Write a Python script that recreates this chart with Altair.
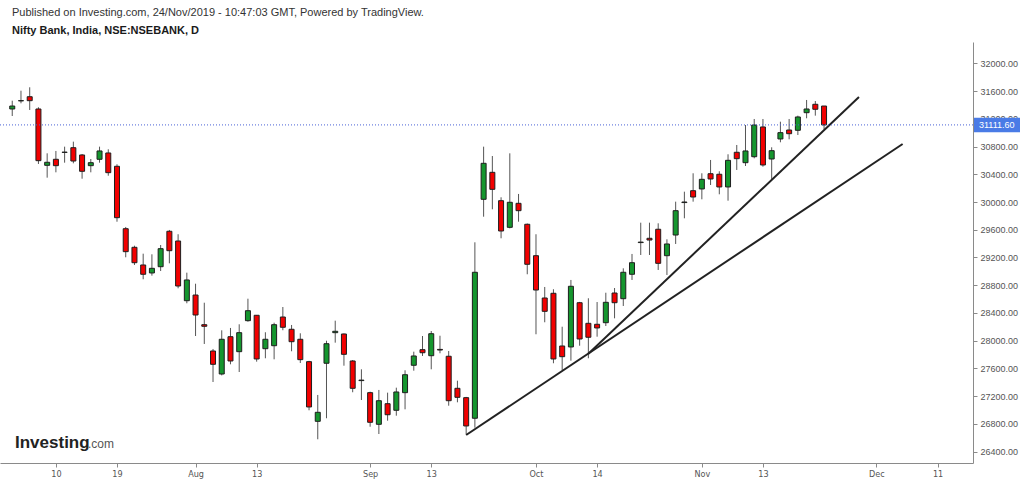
import altair as alt
import pandas as pd

# ---------------- data ----------------
dates = ["Jul 3", "Jul 4", "Jul 5", "Jul 8", "Jul 9", "Jul 10", "Jul 11", "Jul 12", "Jul 15", "Jul 16",
         "Jul 17", "Jul 18", "Jul 19", "Jul 22", "Jul 23", "Jul 24", "Jul 25", "Jul 26", "Jul 29", "Jul 30",
         "Jul 31", "Aug 1", "Aug 2", "Aug 5", "Aug 6", "Aug 7", "Aug 8", "Aug 9", "Aug 13", "Aug 14",
         "Aug 16", "Aug 19", "Aug 20", "Aug 21", "Aug 22", "Aug 23", "Aug 26", "Aug 27", "Aug 28", "Aug 29",
         "Aug 30", "Sep 3", "Sep 4", "Sep 5", "Sep 6", "Sep 9", "Sep 11", "Sep 12", "Sep 13", "Sep 16",
         "Sep 17", "Sep 18", "Sep 19", "Sep 20", "Sep 23", "Sep 24", "Sep 25", "Sep 26", "Sep 27", "Sep 30",
         "Oct 1", "Oct 3", "Oct 4", "Oct 7", "Oct 9", "Oct 10", "Oct 11", "Oct 14", "Oct 15", "Oct 16",
         "Oct 17", "Oct 18", "Oct 22", "Oct 23", "Oct 24", "Oct 25", "Oct 29", "Oct 30", "Oct 31", "Nov 1",
         "Nov 4", "Nov 5", "Nov 6", "Nov 7", "Nov 8", "Nov 11", "Nov 13", "Nov 14", "Nov 15", "Nov 18",
         "Nov 19", "Nov 20", "Nov 21", "Nov 22"]

opens = [31341, 31458, 31518, 31341, 30529, 30616, 30715, 30783, 30678, 30524,
         30616, 30707, 30515, 29615, 29347, 29092, 28977, 29067, 29578, 29438,
         28577, 28659, 28231, 27852, 27520, 28058, 27842, 28289, 28367, 27885,
         27928, 28342, 28165, 28021, 27698, 26838, 27675, 28116, 28097, 27708,
         27425, 27251, 26795, 27092, 26997, 27251, 27646, 27871, 27784, 27875,
         27776, 27314, 27179, 26882, 30039, 30428, 30019, 29635, 29981, 29679,
         29226, 28616, 28684, 27924, 27910, 28548, 28251, 28237, 28260, 28688,
         28606, 28958, 29415, 29477, 29607, 29226, 29524, 29992, 30163, 30188,
         30408, 30400, 30217, 30717, 30567, 30653, 31082, 30620, 30909, 31038,
         31034, 31288, 31409, 31384]

highs = [31461, 31605, 31654, 31366, 30702, 30736, 30798, 30870, 30692, 30620,
         30798, 30760, 30544, 29640, 29370, 29255, 29246, 29380, 29597, 29535,
         28981, 28822, 28548, 27881, 28150, 28184, 28237, 28606, 28370, 28122,
         28260, 28486, 28227, 28107, 27710, 27218, 28000, 28289, 28105, 27722,
         27588, 27265, 27290, 27251, 27323, 27574, 27842, 28068, 28140, 28072,
         27852, 27424, 27190, 29419, 30798, 30663, 30068, 30702, 30116, 29690,
         29535, 28775, 28742, 28202, 28876, 28560, 28612, 28558, 28692, 28760,
         29044, 29251, 29702, 29702, 29693, 29462, 30005, 30149, 30414, 30414,
         30606, 30443, 30688, 30822, 31110, 31197, 31197, 30789, 31158, 31197,
         31245, 31471, 31456, 31384]

lows = [31240, 31423, 31327, 30548, 30351, 30428, 30567, 30558, 30336, 30428,
        30567, 30379, 29716, 29203, 29092, 28886, 28938, 29005, 29116, 28756,
        28540, 28068, 27953, 27405, 27500, 27660, 27549, 28274, 27698, 27747,
        27732, 28151, 27848, 27679, 26997, 26579, 26882, 27972, 27640, 27257,
        27145, 26760, 26655, 26847, 26919, 27011, 27568, 27780, 27588, 27819,
        27063, 27112, 26650, 26746, 29788, 29895, 29477, 29620, 29716, 28958,
        28093, 28266, 27675, 27578, 27712, 27928, 27747, 28058, 28212, 28323,
        28501, 28876, 29236, 29236, 29020, 28948, 29395, 29765, 30005, 30039,
        30245, 30111, 30019, 30462, 30519, 30630, 30509, 30332, 30861, 30904,
        30966, 31207, 31245, 31048]

closes = [31384, 31462, 31461, 30596, 30573, 30524, 30719, 30591, 30443, 30567,
          30736, 30423, 29774, 29284, 29125, 28958, 29044, 29327, 29298, 28789,
          28876, 28371, 28208, 27660, 28021, 27708, 28116, 28433, 27737, 28021,
          28231, 28194, 27986, 27727, 27045, 26968, 27957, 28136, 27804, 27314,
          27432, 26824, 27135, 26933, 27261, 27510, 27780, 27827, 28101, 27866,
          27135, 27184, 26771, 28987, 30558, 30183, 29582, 29996, 29875, 29102,
          28731, 28424, 27737, 27770, 28785, 28025, 28050, 28184, 28554, 28548,
          28987, 29125, 29422, 29452, 29116, 29395, 29875, 30000, 30072, 30327,
          30332, 30217, 30601, 30625, 30736, 31110, 30534, 30740, 31000, 30985,
          31226, 31341, 31337, 31111.6]

# x-axis labels (bar index -> label), incl. projected future sessions
tick_index = [5, 12, 21, 28, 41, 48, 60, 67, 79, 86, 99, 106]
tick_label = ["10", "19", "Aug", "13", "Sep", "13", "Oct", "14", "Nov", "13", "Dec", "11"]

# price axis ticks
price_ticks = [26400, 26800, 27200, 27600, 28000, 28400, 28800, 29200, 29600,
               30000, 30400, 30800, 31200, 31600, 32000]

# trend lines (bar index, price)
line_name = ["a", "a", "b", "b"]
line_index = [52, 102, 66, 97]
line_price = [26641, 30836, 27812, 31514]

last_price = [31111.6]
last_label = ["31111.60"]

# ---------------- frames ----------------
df = pd.DataFrame({"idx": list(range(len(dates))), "date": dates, "open": opens,
                   "high": highs, "low": lows, "close": closes})
df["dir"] = ["up" if c >= o else "down" for o, c in zip(opens, closes)]

lines_df = pd.DataFrame({"name": line_name, "idx": line_index, "price": line_price})
last_df = pd.DataFrame({"price": last_price, "label": last_label,
                        "lo": [p - 105 for p in last_price], "hi": [p + 105 for p in last_price]})

FONT = "Liberation Sans, Arial, sans-serif"

label_expr = " : ".join(f"datum.value == {i} ? '{t}'" for i, t in zip(tick_index, tick_label)) + " : ''"

xscale = alt.Scale(domain=[-0.83, 109.49], nice=False, zero=False)
yscale = alt.Scale(domain=[26237, 32307], nice=False, zero=False)

x_axis = alt.Axis(values=tick_index, labelExpr=label_expr, grid=False, title=None,
                  domainColor="#8a8a8a", tickColor="#8a8a8a", tickSize=4,
                  labelColor="#555555", labelFontSize=9, labelOverlap=False,
                  labelFont="Liberation Sans Narrow, DejaVu Sans Condensed, Liberation Sans",
                  labelPadding=2)
y_axis = alt.Axis(orient="right", values=price_ticks, format=".2f", grid=False, title=None,
                  domainColor="#8a8a8a", tickColor="#8a8a8a", tickSize=4, labelOverlap=False,
                  tickCount=15, labelColor="#555555", labelFontSize=9, labelFont=FONT,
                  labelPadding=3)


def X(field):
    return alt.X(field, scale=xscale, axis=x_axis)


def Y(field):
    return alt.Y(field, scale=yscale, axis=y_axis)


base = alt.Chart(df)

wicks = base.mark_rule(color="#555555", strokeWidth=1).encode(
    x=X("idx:Q"), y=Y("low:Q"), y2="high:Q",
)

bodies = base.mark_bar(size=5, stroke="#1e1e1e", strokeWidth=1).encode(
    x=X("idx:Q"), y=Y("open:Q"), y2="close:Q",
    color=alt.Color("dir:N", scale=alt.Scale(domain=["up", "down"], range=["#15962e", "#f20000"]),
                    legend=None),
)

trend = alt.Chart(lines_df).mark_line(color="#222222", strokeWidth=2).encode(
    x=X("idx:Q"), y=Y("price:Q"), detail="name:N",
)

price_line = alt.Chart(last_df).mark_rule(color="#4a63d6", strokeWidth=1, strokeDash=[1, 2]).encode(
    y=Y("price:Q"), x=alt.value(0), x2=alt.value(973),
)

price_box = alt.Chart(last_df).mark_rect(color="#4a7be6").encode(
    y=Y("lo:Q"), y2="hi:Q", x=alt.value(974), x2=alt.value(1020),
)

price_text = alt.Chart(last_df).mark_text(color="white", fontSize=9, font=FONT, align="left",
                                          baseline="middle").encode(
    y=Y("price:Q"), x=alt.value(979), text="label:N",
)

hdr = pd.DataFrame({"t": ["Published on Investing.com, 24/Nov/2019 - 10:47:03 GMT, Powered by TradingView."]})
title1 = alt.Chart(hdr).mark_text(align="left", baseline="middle", fontSize=11, font=FONT,
                                  color="#333333").encode(
    x=alt.value(12), y=alt.value(-29), text="t:N")
hdr2 = pd.DataFrame({"t": ["Nifty Bank, India, NSE:NSEBANK, D"]})
title2 = alt.Chart(hdr2).mark_text(align="left", baseline="middle", fontSize=11, font=FONT,
                                   fontWeight="bold", color="#1a1a1a").encode(
    x=alt.value(12), y=alt.value(-11), text="t:N")

logo1 = alt.Chart(pd.DataFrame({"t": ["Investing"]})).mark_text(
    align="left", baseline="alphabetic", fontSize=17, font=FONT, fontWeight="bold",
    color="#222222").encode(x=alt.value(15), y=alt.value(406), text="t:N")
logo2 = alt.Chart(pd.DataFrame({"t": [".com"]})).mark_text(
    align="left", baseline="alphabetic", fontSize=12, font=FONT,
    color="#555555").encode(x=alt.value(88), y=alt.value(406), text="t:N")

chart = alt.layer(wicks, bodies, trend, price_line, price_box, price_text,
                  title1, title2, logo1, logo2).properties(
    width=973, height=421,
    autosize=alt.AutoSizeParams(type="none"),
    padding={"left": 0, "top": 42, "right": 51, "bottom": 17},
    background="white",
).configure_view(stroke=None)

chart.save("out.html", embed_options={"renderer": "svg", "actions": False})
